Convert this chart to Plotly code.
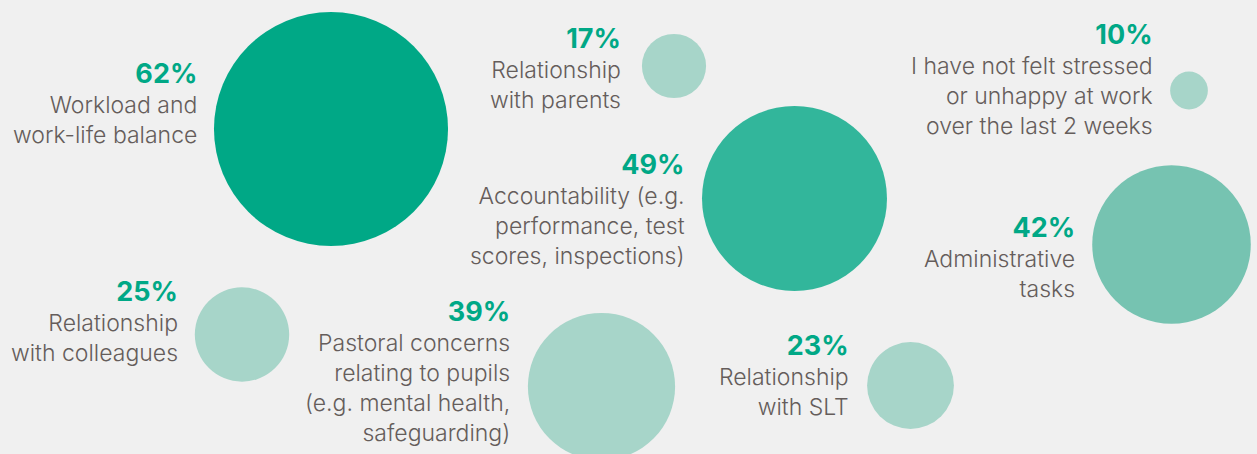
import plotly.graph_objects as go

# ---- data ----
categories = [
    "Workload and work-life balance",
    "Relationship with parents",
    "I have not felt stressed or unhappy at work over the last 2 weeks",
    "Accountability (e.g. performance, test scores, inspections)",
    "Administrative tasks",
    "Relationship with colleagues",
    "Pastoral concerns relating to pupils (e.g. mental health, safeguarding)",
    "Relationship with SLT",
]
values = [62, 17, 10, 49, 42, 25, 39, 23]
label_lines = [
    ["Workload and", "work-life balance"],
    ["Relationship", "with parents"],
    ["I have not felt stressed", "or unhappy at work", "over the last 2 weeks"],
    ["Accountability (e.g.", "performance, test", "scores, inspections)"],
    ["Administrative", "tasks"],
    ["Relationship", "with colleagues"],
    ["Pastoral concerns", "relating to pupils", "(e.g. mental health,", "safeguarding)"],
    ["Relationship", "with SLT"],
]

# ---- layout (positions in pixel space) ----
W, H = 1257, 454
bubble_x = [331, 674, 1189, 794.5, 1171.5, 242, 601.5, 910.5]
bubble_y = [129, 66, 90.5, 198.5, 244.5, 334.5, 386.5, 385.5]
bubble_colors = ["#00a886", "#a7d5c9", "#a7d5c9", "#32b69b", "#76c3b1",
                 "#a7d5c9", "#a7d5c9", "#a7d5c9"]
px_per_unit = 3.775  # diameter in px per percentage point

label_right = [199, 623, 1155, 687, 1077, 180, 512, 851]
block_y_center = [102.5, 68, 79, 208.5, 257, 320.5, 370.5, 374.5]

PCT_COLOR = "#00a886"
TEXT_COLOR = "#655d5b"
BG = "#f0f0f0"
FONT = "'Inter Light', Inter, Lato, 'Open Sans', sans-serif"
PCT_FONT = "Inter, Lato, sans-serif"

fig = go.Figure()
fig.add_trace(go.Scatter(
    x=bubble_x, y=bubble_y, mode="markers",
    text=categories, hoverinfo="text",
    marker=dict(size=values, sizemode="diameter", sizeref=1 / px_per_unit,
                color=bubble_colors, opacity=1, line=dict(width=0)),
    showlegend=False,
))

annotations = []
for i, v in enumerate(values):
    pct_html = (f"<span style=\"color:{PCT_COLOR};font-size:27px;"
                f"font-weight:700;font-family:{PCT_FONT}\">{v}%</span>")
    annotations.append(dict(
        x=label_right[i], y=block_y_center[i], xref="x", yref="y",
        text="<br>".join([pct_html] + label_lines[i]), showarrow=False,
        xanchor="right", yanchor="middle", align="right",
        font=dict(family=FONT, size=23, color=TEXT_COLOR, weight=300),
    ))

fig.update_layout(
    width=W, height=H,
    margin=dict(l=0, r=0, t=0, b=0),
    paper_bgcolor=BG, plot_bgcolor=BG,
    xaxis=dict(range=[0, W], visible=False, fixedrange=True),
    yaxis=dict(range=[H, 0], visible=False, fixedrange=True),
    annotations=annotations,
)

fig.write_html("out.html", post_script="document.body.style.margin='0';",
               config={"displayModeBar": False})
